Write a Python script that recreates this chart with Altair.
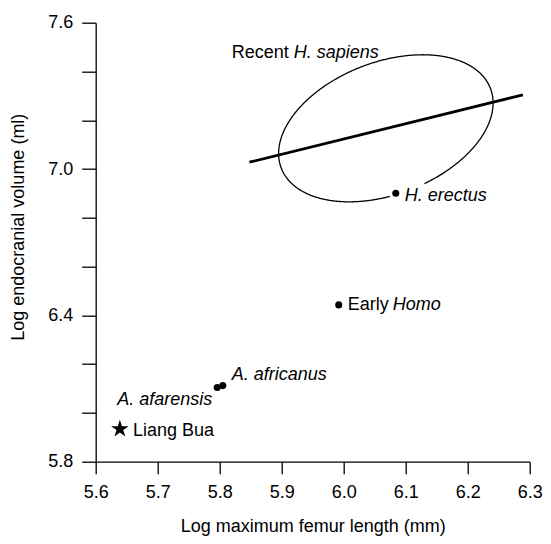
import altair as alt
import pandas as pd
import numpy as np

FONT = "Liberation Sans"

# ---- data ----
names = ["Liang Bua", "A. afarensis", "A. africanus", "Early Homo", "H. erectus"]
femur = [5.639, 5.796, 5.805, 5.992, 6.084]
brain = [5.934, 6.104, 6.112, 6.443, 6.901]

# regression line for recent H. sapiens
line_x = [5.848, 6.289]
line_y = [7.028, 7.304]

# ellipse for recent H. sapiens: centre and two semi-axis vectors (data units)
ell_center = [6.068, 7.167]
ell_axis1 = [0.1691, 0.1607]
ell_axis2 = [-0.0363, 0.2551]

x_ticks = [5.6, 5.7, 5.8, 5.9, 6.0, 6.1, 6.2, 6.3]
y_ticks = [5.8, 5.9, 6.0, 6.1, 6.2, 6.3, 6.4, 6.5, 6.6, 6.7, 6.8, 6.9,
           7.0, 7.1, 7.2, 7.3, 7.4, 7.5, 7.6]
y_labels = ["5.8", "6.4", "7.0", "7.6"]

# ---- tables ----
pts = pd.DataFrame({"name": names, "x": femur, "y": brain})
reg = pd.DataFrame({"x": line_x, "y": line_y})

t = np.linspace(0, 2 * np.pi, 721)[:-1]
ex = ell_center[0] + ell_axis1[0] * np.cos(t) + ell_axis2[0] * np.sin(t)
ey = ell_center[1] + ell_axis1[1] * np.cos(t) + ell_axis2[1] * np.sin(t)
gap = (ex > 6.0755) & (ex < 6.1295) & (ey < 7.0)   # hidden behind the H. erectus label
idx = np.arange(len(t))
last = np.where(gap)[0].max()
idx = np.roll(idx, -(last + 1))
idx = idx[~gap[idx]]
ell = pd.DataFrame({"x": ex[idx], "y": ey[idx], "i": np.arange(len(idx))})

xs = alt.Scale(domain=[5.6, 6.3], zero=False, nice=False)
ys = alt.Scale(domain=[5.8, 7.6], zero=False, nice=False)

label_expr = ("indexof([" + ",".join("'%s'" % s for s in y_labels) +
              "], format(datum.value, '.1f')) >= 0 ? format(datum.value, '.1f') : ''")

W, H = 434, 439

x_axis = alt.Axis(values=x_ticks, format=".1f", title="Log maximum femur length (mm)",
                  tickSize=12, labelPadding=10, labelFlush=False, labelOverlap=False,
                  titleY=69.8, titleBaseline="alphabetic")
y_axis = alt.Axis(values=y_ticks, labelExpr=label_expr, title="Log endocranial volume (ml)",
                  tickSize=14, labelPadding=9, labelFlush=False, labelOverlap=False,
                  titleX=-77.7, titleY=204, titleBaseline="middle", titleAlign="center",
                  titleAngle=-90)

base = alt.Chart(pts)

ellipse = alt.Chart(ell).mark_line(color="black", strokeWidth=1.3).encode(
    x=alt.X("x:Q", scale=xs, axis=x_axis),
    y=alt.Y("y:Q", scale=ys, axis=y_axis),
    order="i:Q",
)

regline = alt.Chart(reg).mark_line(color="black", strokeWidth=2.8).encode(
    x=alt.X("x:Q", scale=xs), y=alt.Y("y:Q", scale=ys))

STAR = ("M0,-1L0.2245,-0.309L0.951,-0.309L0.363,0.118L0.588,0.809L0,0.382"
        "L-0.588,0.809L-0.363,0.118L-0.951,-0.309L-0.2245,-0.309Z")

dots = base.transform_filter(alt.datum.name != "Liang Bua").mark_point(
    shape="circle", filled=True, color="black", size=50, opacity=1).encode(
    x=alt.X("x:Q", scale=xs), y=alt.Y("y:Q", scale=ys))

star = base.transform_filter(alt.datum.name == "Liang Bua").mark_point(
    shape=STAR, filled=True, color="black", size=340, opacity=1).encode(
    x=alt.X("x:Q", scale=xs), y=alt.Y("y:Q", scale=ys))


def lab(name, text, dx, dy, align="left", italic=False):
    return base.transform_filter(alt.datum.name == name).mark_text(
        text=text, dx=dx, dy=dy, align=align, baseline="alphabetic",
        font=FONT, fontSize=18, fontStyle="italic" if italic else "normal",
        color="black").encode(x=alt.X("x:Q", scale=xs), y=alt.Y("y:Q", scale=ys))


labels = [
    lab("Liang Bua", "Liang Bua", 13, 7),
    lab("A. afarensis", "A. afarensis", -5, 17, align="right", italic=True),
    lab("A. africanus", "A. africanus", 9, -6, italic=True),
    lab("Early Homo", "Early", 9, 5),
    lab("Early Homo", "Homo", 54, 5, italic=True),
    lab("H. erectus", "H. erectus", 9, 8, italic=True),
]

ann = pd.DataFrame({"x": [5.8195], "y": [7.454]})
recent = alt.Chart(ann).mark_text(text="Recent", align="left", baseline="alphabetic",
                                  font=FONT, fontSize=18, color="black").encode(
    x=alt.X("x:Q", scale=xs), y=alt.Y("y:Q", scale=ys))
sapiens = alt.Chart(ann).mark_text(text="H. sapiens", dx=62, align="left", baseline="alphabetic",
                                   font=FONT, fontSize=18, fontStyle="italic", color="black").encode(
    x=alt.X("x:Q", scale=xs), y=alt.Y("y:Q", scale=ys))

chart = alt.layer(ellipse, regline, dots, star, *labels, recent, sapiens).properties(
    width=W, height=H,
    autosize=alt.AutoSizeParams(type="none"),
    padding={"left": 87.7, "top": 14.7, "right": 13.3, "bottom": 74.3},
).configure_view(stroke=None).configure_axis(
    grid=False, domainColor="black", tickColor="black", domainWidth=1.3, tickWidth=1.3,
    labelFont=FONT, labelFontSize=18, labelColor="black",
    titleFont=FONT, titleFontSize=18, titleColor="black", titleFontWeight="normal",
)

chart.save("out.html", embed_options={"renderer": "svg", "actions": False})
